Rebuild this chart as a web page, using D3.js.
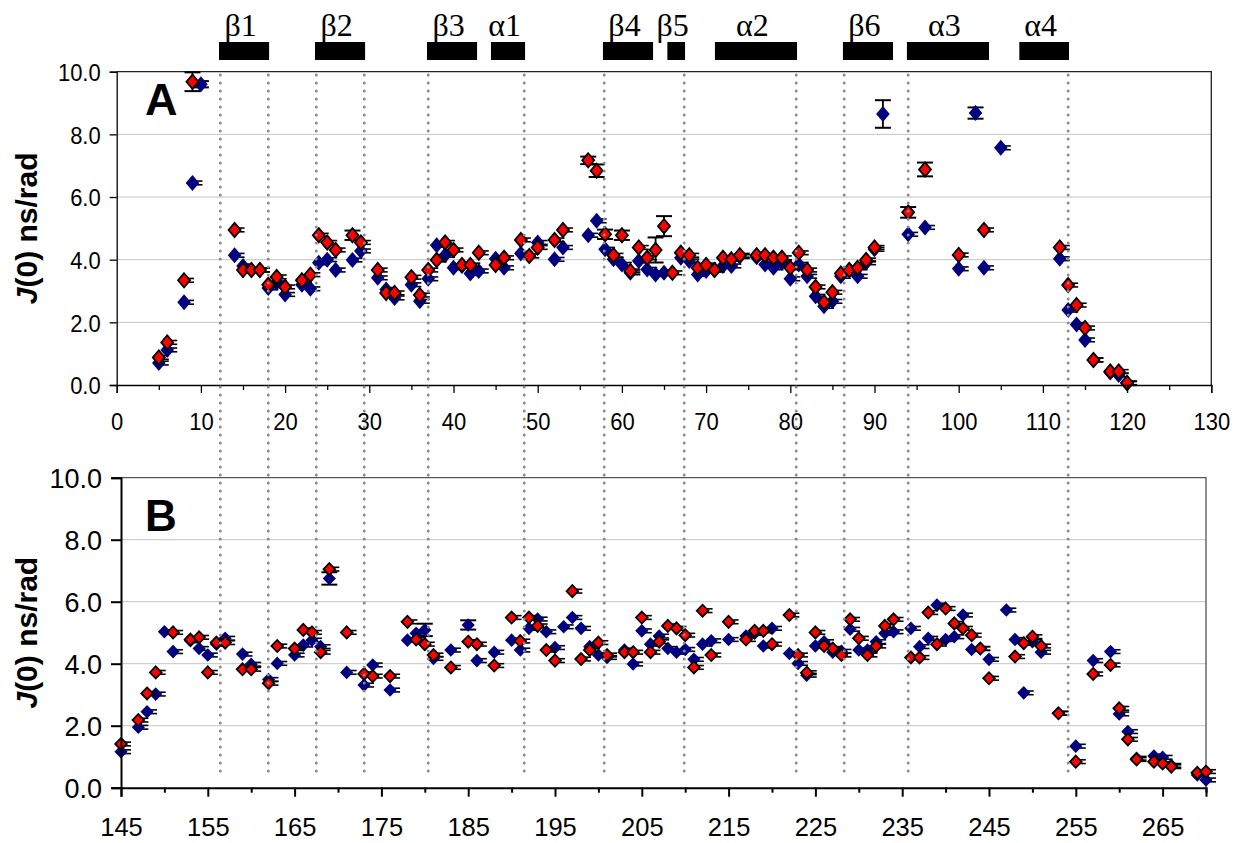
<!DOCTYPE html>
<html><head><meta charset="utf-8">
<script src="https://cdn.jsdelivr.net/npm/d3@7"></script>
<style>body{margin:0;background:#fff} svg{display:block}</style>
</head><body>
<svg id="c" width="1235" height="843"></svg>
<script>
// [residue, J(0), error(optional)]
const topBlue = [[5,0.70],[6,1.12],[8,2.64],[9,6.45],[10,9.6,0.1],[14,4.14],[15,3.8],[16,3.67],[17,3.67],[18,3.1],[19,3.26],[20,2.89],[22,3.2],[23,3.07],[24,3.9],[25,4.0],[26,3.67],[28,3.99],[29,4.28],[31,3.42],[32,3.05],[33,2.78],[35,3.2],[36,2.67],[37,3.39],[38,4.46],[39,4.14],[40,3.74],[41,3.8],[42,3.56],[43,3.64],[45,4.03],[46,3.74],[48,4.2],[50,4.55],[52,4.01],[53,4.39],[56,4.78],[57,5.24],[58,4.33],[59,4.01],[60,3.85],[61,3.58],[62,3.96],[63,3.69],[64,3.53],[65,3.58],[67,4.06],[68,3.96],[69,3.53],[70,3.64],[71,3.67],[72,3.8],[73,3.8],[74,4.1],[76,4.08],[77,3.85],[78,3.74],[79,3.9],[80,3.39],[81,3.85],[82,3.47],[83,2.83],[84,2.51],[85,2.67],[86,3.47],[87,3.67],[88,3.47],[89,3.9],[90,4.33],[91,8.65,0.44],[94,4.81],[96,5.03],[100,3.71],[102,8.68,0.18],[103,3.74],[105,7.57],[112,4.03],[113,2.39],[114,1.93],[115,1.44],[116,0.8],[118,0.4],[119,0.32],[120,0.05]];
const topRed = [[5,0.88],[6,1.36],[8,3.34],[9,9.68,0.3],[14,4.95],[15,3.67],[16,3.67],[17,3.67],[18,3.2],[19,3.45],[20,3.13],[22,3.34],[23,3.52],[24,4.78],[25,4.55],[26,4.31],[28,4.78,0.15],[29,4.55],[31,3.67],[32,2.94],[33,2.94],[35,3.44],[36,2.87],[37,3.67],[38,3.99],[39,4.55],[40,4.31],[41,3.83],[42,3.83],[43,4.22],[45,3.83],[46,4.06],[48,4.63],[49,4.12],[50,4.39],[52,4.63],[53,4.95],[56,7.17,0.12],[57,6.84,0.2],[58,4.81,0.15],[59,4.14],[60,4.78,0.15],[61,3.64],[62,4.39],[63,4.06],[64,4.31,0.4],[65,5.07,0.32],[66,3.58],[67,4.22],[68,4.14],[69,3.74],[70,3.83],[71,3.67],[72,4.06],[73,4.01],[74,4.14],[76,4.14],[77,4.14],[78,4.06],[79,4.06],[80,3.74],[81,4.22],[82,3.67],[83,3.13],[84,2.64],[85,2.96],[86,3.56],[87,3.67],[88,3.74],[89,3.99],[90,4.39],[94,5.51,0.17],[96,6.88,0.22],[100,4.15],[103,4.95],[112,4.39],[113,3.19],[114,2.55],[115,1.82],[116,0.8],[118,0.43],[119,0.43],[120,0.07]];
const botBlue = [[145,1.16],[147,1.95],[148,2.45],[149,3.02],[150,5.03],[151,4.39],[153,4.74],[154,4.49],[155,4.28],[156,4.63],[157,4.82],[159,4.31],[160,3.98],[162,3.49],[163,4.01],[165,4.28],[166,4.6],[167,4.76],[168,4.55],[169,6.75,0.2],[171,3.72],[173,3.31],[174,3.96],[176,3.15],[178,4.76],[179,4.98],[180,5.09,0.2],[181,4.17],[183,4.44],[185,5.25,0.15],[186,4.1],[188,4.37],[190,4.76],[191,4.44],[192,5.14],[193,5.44],[194,5.03],[195,4.52],[196,5.19],[197,5.49],[198,5.14],[199,4.55],[200,4.28],[201,4.2],[203,4.44],[204,3.99],[205,5.06],[206,4.63],[207,4.89],[208,4.49],[209,4.37],[210,4.46],[211,4.14],[212,4.63],[213,4.74],[215,4.78],[217,4.89],[218,4.98],[219,4.57],[220,5.14],[222,4.33],[223,4.01],[224,3.63],[225,4.57],[226,4.71],[227,4.37],[228,4.4],[229,5.11],[230,4.44],[231,4.44],[232,4.71],[233,4.98],[234,5.03],[236,5.14],[237,4.55],[238,4.82],[239,5.89],[240,4.78],[241,4.87],[242,5.57],[243,4.46],[244,4.49],[245,4.14],[247,5.73],[248,4.78],[249,3.06],[250,4.71],[251,4.37],[253,2.4],[255,1.34],[257,4.1],[259,4.39],[260,2.38],[261,1.81],[262,0.95],[264,1.02],[265,0.98],[266,0.72],[269,0.41],[270,0.25]];
const botRed = [[145,1.41],[147,2.18],[148,3.04],[149,3.72],[151,5.01],[153,4.78],[154,4.85],[155,3.72],[156,4.68],[157,4.68],[159,3.82],[160,3.82],[162,3.37],[163,4.57],[165,4.49],[166,5.09],[167,5.01],[168,4.37],[169,7.05],[171,5.01],[173,3.67],[174,3.6],[176,3.6],[178,5.35],[179,4.78],[180,4.63],[181,4.28],[183,3.88],[185,4.71],[186,4.63],[188,3.94],[190,5.49],[191,4.73],[192,5.49],[193,5.22],[194,4.44],[195,4.1],[197,6.34],[198,4.15],[199,4.44],[200,4.68],[201,4.28],[203,4.37],[204,4.37],[205,5.49],[206,4.37],[207,4.71],[208,5.22],[209,5.14],[210,4.92],[211,3.88],[212,5.71],[213,4.28],[215,5.35],[217,4.78],[218,5.06],[219,5.06],[220,4.63],[222,5.57],[223,4.28],[224,3.71],[225,5.01],[226,4.57],[227,4.49],[228,4.28],[229,5.43],[230,4.82],[231,4.28],[232,4.57],[233,5.22],[234,5.43],[236,4.2],[237,4.2],[238,5.65],[239,4.63],[240,5.78],[241,5.3],[242,5.14],[243,4.92],[244,4.49],[245,3.53],[248,4.23],[249,4.66],[250,4.87],[251,4.57],[253,2.4],[255,0.84],[257,3.67],[259,3.96],[260,2.56],[261,1.56],[262,0.91],[264,0.84],[265,0.78],[266,0.68],[269,0.48],[270,0.52]];

const topTicks = d3.range(0, 131, 10);
const topMinor = d3.range(5, 130, 10);
const botTicks = d3.range(145, 266, 10);
const botMinor = d3.range(150, 271, 10);
const yTicks = [0, 2, 4, 6, 8, 10];
const gridVals = [2, 4, 6, 8];
const structNames = ["β1","β2","β3","α1","β4","β5","α2","β6","α3","α4"];
const structStart = [12.15, 23.55, 36.85, 44.45, 57.75, 65.4, 71.05, 86.25, 93.85, 107.2];
const structEnd   = [18.1, 29.5, 42.8, 48.5, 63.7, 67.5, 80.8, 92.2, 103.6, 113.1];
const boundaryLines = [12.3, 18, 23.7, 29.4, 37, 48.4, 57.9, 67.4, 80.7, 86.4, 94, 113];
const panelLetters = ["A", "B"];
const yTitle = ["J", "(0) ns/rad"];

const svg = d3.select("#c");
const SANS = "'Liberation Sans', Arial, sans-serif";
const SERIF = "'Liberation Serif', 'Times New Roman', serif";
const DEF_ERR = 0.06;

const panels = [
  {x: d3.scaleLinear([0,130],[116.7,1211.3]), y: d3.scaleLinear([0,10],[385,71.7]),
   blue: topBlue, red: topRed, major: topTicks, minor: topMinor,
   fs: 22, yfs: 22, stretch: 1.12, axisW: 1.3, frame: "#222", ytick: 7, ypad: 9, xtick: 8, xpad: 19,
   letter: panelLetters[0], lfs: 45, lbase: 43.3, blueH: [6.8, 8.0], redH: [6.0, 7.1]},
  {x: d3.scaleLinear([145,270],[121,1206]), y: d3.scaleLinear([0,10],[787.7,477.7]),
   blue: botBlue, red: botRed, major: botTicks, minor: botMinor,
   fs: 25.5, yfs: 27, stretch: 1.0, axisW: 2, frame: "#555", ytick: 10, ypad: 9, xtick: 9, xpad: 21,
   letter: panelLetters[1], lfs: 44, lbase: 53.3, blueH: [6.6, 6.8], redH: [5.8, 6.0]}
];

function diamond(hx, hy){ return `M0,${-hy}L${hx},0L0,${hy}L${-hx},0Z`; }

panels.forEach(p => {
  const [x0, x1] = p.x.range();
  const [yb, yt] = p.y.range();
  const g = svg.append("g");
  // gridlines
  g.selectAll("line.grid").data(gridVals).join("line")
    .attr("x1", x0).attr("x2", x1).attr("y1", d => p.y(d)).attr("y2", d => p.y(d))
    .attr("stroke", "#c4c4c4").attr("stroke-width", 1);
  // frame top & right
  g.append("path").attr("d", `M${x0},${yt}H${x1}V${yb}`).attr("fill","none")
    .attr("stroke", p.frame).attr("stroke-width", 1.3);

  function series(data, fill, stroke, h) {
    const e = g.append("g");
    data.forEach(d => {
      const cx = p.x(d[0]);
      if (d[2]) {
        const ya = p.y(d[1] + d[2]), yb2 = p.y(d[1] - d[2]);
        e.append("line").attr("x1", cx).attr("x2", cx).attr("y1", ya).attr("y2", yb2)
          .attr("stroke", "#000").attr("stroke-width", 1.8);
        [ya, yb2].forEach(yy => e.append("line").attr("x1", cx - 8).attr("x2", cx + 8)
          .attr("y1", yy).attr("y2", yy).attr("stroke", "#000").attr("stroke-width", 2));
      } else {
        [p.y(d[1] + DEF_ERR), p.y(d[1] - DEF_ERR)].forEach(yy => e.append("line")
          .attr("x1", cx).attr("x2", cx + 10).attr("y1", yy).attr("y2", yy)
          .attr("stroke", "#000").attr("stroke-width", 1.6));
      }
    });
    g.append("g").selectAll("path").data(data).join("path")
      .attr("d", diamond(h[0], h[1]))
      .attr("transform", d => `translate(${p.x(d[0])},${p.y(d[1])})`)
      .attr("fill", fill)
      .attr("stroke", stroke || "none").attr("stroke-width", 1.8).attr("stroke-linejoin", "miter");
  }
  series(p.blue, "#000080", null, p.blueH);
  series(p.red, "#ff0000", "#000", p.redH);

  // axes
  const ax = g.append("g").attr("transform", `translate(0,${yb})`)
    .call(d3.axisBottom(p.x).tickValues(p.major).tickFormat(d3.format("d")).tickSize(p.xtick).tickPadding(p.xpad));
  const axm = g.append("g").attr("transform", `translate(0,${yb})`)
    .call(d3.axisBottom(p.x).tickValues(p.minor).tickFormat("").tickSize(5));
  axm.select(".domain").remove();
  const ay = g.append("g").attr("transform", `translate(${x0},0)`)
    .call(d3.axisLeft(p.y).tickValues(yTicks).tickFormat(d3.format(".1f")).tickSize(p.ytick).tickPadding(p.ypad));
  [ax, axm, ay].forEach(a => {
    a.selectAll("path,line").attr("stroke", "#000").attr("stroke-width", p.axisW);
    a.selectAll("text").attr("fill", "#000").style("font-family", SANS);
  });
  ax.selectAll("text").style("font-size", p.fs + "px").each(function() {
    const t = d3.select(this); const yy = +t.attr("y");
    t.attr("y", 0).attr("transform", `translate(0,${yy}) scale(1,${p.stretch})`);
  });
  ay.selectAll("text").style("font-size", p.yfs + "px").attr("dy", "0.36em")
    .attr("transform", `scale(1,${p.stretch})`);

  // panel letter
  g.append("text").attr("x", 145).attr("y", yt + p.lbase)
    .text(p.letter).style("font-family", SANS).style("font-weight", "bold").style("font-size", p.lfs + "px");

  // y title
  const t = g.append("text").attr("transform", `translate(37,${(yb + yt) / 2}) rotate(-90)`)
    .attr("text-anchor", "middle").style("font-family", SANS).style("font-weight", "bold").style("font-size", "30px");
  t.append("tspan").text(yTitle[0]).style("font-style", "italic");
  t.append("tspan").text(yTitle[1]);
});

// secondary structure bars & labels (top panel residue scale)
const xs = panels[0].x;
const sg = svg.append("g");
structNames.forEach((n, i) => {
  const a = xs(structStart[i]), b = xs(structEnd[i]);
  sg.append("rect").attr("x", a).attr("y", 42).attr("width", b - a).attr("height", 18).attr("fill", "#000");
  sg.append("text").attr("x", (a + b) / 2 - 3.5).attr("y", 36).attr("text-anchor", "middle")
    .text(n).style("font-family", SERIF).style("font-size", "32px").attr("fill", "#000");
});

// dotted boundary lines across both panels
svg.append("g").selectAll("line").data(boundaryLines).join("line")
  .attr("x1", d => xs(d)).attr("x2", d => xs(d)).attr("y1", 75).attr("y2", 772)
  .attr("stroke", "#8a8a8a").attr("stroke-width", 3).attr("stroke-linecap", "round")
  .attr("stroke-dasharray", "0 8");
</script>
</body></html>
